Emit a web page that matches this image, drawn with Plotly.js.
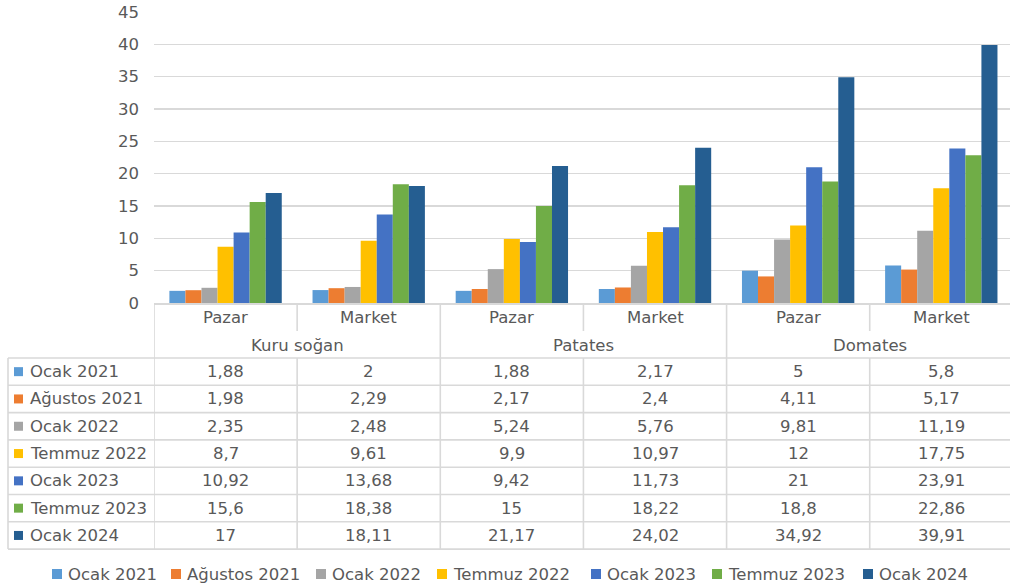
<!DOCTYPE html>
<html>
<head>
<meta charset="utf-8">
<script src="https://cdn.plot.ly/plotly-3.0.1.min.js"></script>
<style>html,body{margin:0;padding:0;background:#fff;}#chart{width:1010px;height:587px;}</style>
</head>
<body>
<div id="chart"></div>
<script>
// ---- data ----
const products = ["Kuru soğan", "Patates", "Domates"];
const markets = ["Pazar", "Market"];
const seriesNames = ["Ocak 2021", "Ağustos 2021", "Ocak 2022", "Temmuz 2022", "Ocak 2023", "Temmuz 2023", "Ocak 2024"];
const ocak2021    = [1.88, 2,     1.88,  2.17,  5,     5.8];
const agustos2021 = [1.98, 2.29,  2.17,  2.4,   4.11,  5.17];
const ocak2022    = [2.35, 2.48,  5.24,  5.76,  9.81,  11.19];
const temmuz2022  = [8.7,  9.61,  9.9,   10.97, 12,    17.75];
const ocak2023    = [10.92,13.68, 9.42,  11.73, 21,    23.91];
const temmuz2023  = [15.6, 18.38, 15,    18.22, 18.8,  22.86];
const ocak2024    = [17,   18.11, 21.17, 24.02, 34.92, 39.91];
const yTicks = [0, 5, 10, 15, 20, 25, 30, 35, 40, 45];

const seriesValues = [ocak2021, agustos2021, ocak2022, temmuz2022, ocak2023, temmuz2023, ocak2024];
const colors = ["#5B9BD5", "#ED7D31", "#A5A5A5", "#FFC000", "#4472C4", "#70AD47", "#255E91"];

// ---- layout geometry (pixels) ----
const W = 1010, H = 587;
const L = 154, R = 1010, T = 12, B = 303;
const xMin = -0.5, xMax = 5.48;
const px = x => (x - L) / (R - L);
const py = y => (B - y) / (B - T);
const font = "DejaVu Sans, sans-serif";
const txtColor = "#595959";
const lineColor = "#d9d9d9";
const fs = 16.5;

const nCat = products.length * markets.length;
const xs = [];
for (let i = 0; i < nCat; i++) xs.push(i);

const traces = seriesNames.map((name, s) => ({
  type: "bar",
  name: name,
  x: xs,
  y: seriesValues[s],
  marker: {color: colors[s]},
  hoverinfo: "skip"
}));

const shapes = [];
const annotations = [];
const rowTop = 358, rowH = 27.3;
const nRows = seriesNames.length;
const tableBottom = rowTop + rowH * nRows;

function hline(y, x0, x1) {
  shapes.push({type: "line", xref: "paper", yref: "paper", x0: px(x0), x1: px(x1), y0: py(y), y1: py(y),
    line: {color: lineColor, width: 1.6}, layer: "above"});
}
// vertical line at a category boundary (data x), spanning pixel rows
function vlineX(xv, y0, y1) {
  shapes.push({type: "line", xref: "x", yref: "paper", x0: xv, x1: xv, y0: py(y0), y1: py(y1),
    line: {color: lineColor, width: 1.6}, layer: "above"});
}
function vline(x, y0, y1) {
  shapes.push({type: "line", xref: "paper", yref: "paper", x0: px(x), x1: px(x), y0: py(y0), y1: py(y1),
    line: {color: lineColor, width: 1.6}, layer: "above"});
}

// table horizontal lines
for (let k = 0; k <= nRows; k++) hline(rowTop + rowH * k, 8, R);
// left column border
vline(8, rowTop, tableBottom);
// column boundaries
for (let i = 0; i < nCat; i++) {
  const xv = i - 0.5;
  if (i % markets.length === 0) {
    vlineX(xv, B, tableBottom);
  } else {
    vlineX(xv, B, 331);
    vlineX(xv, rowTop, tableBottom);
  }
}

// market labels
for (let i = 0; i < nCat; i++) {
  annotations.push({xref: "x", yref: "paper", x: i, y: py(317), text: markets[i % markets.length],
    showarrow: false, xanchor: "center", yanchor: "middle", font: {family: font, size: fs, color: txtColor}});
}
// product labels
products.forEach((p, g) => {
  annotations.push({xref: "x", yref: "paper", x: g * markets.length + (markets.length - 1) / 2, y: py(345), text: p,
    showarrow: false, xanchor: "center", yanchor: "middle", font: {family: font, size: fs, color: txtColor}});
});

const fmt = v => String(v).replace(".", ",");

// table rows
seriesNames.forEach((name, s) => {
  const yc = rowTop + rowH * (s + 0.5);
  shapes.push({type: "rect", xref: "paper", yref: "paper", x0: px(14), x1: px(23), y0: py(yc - 4.5), y1: py(yc + 4.5),
    fillcolor: colors[s], line: {width: 0}, layer: "above"});
  annotations.push({xref: "paper", yref: "paper", x: px(28), y: py(yc), text: name, showarrow: false,
    xanchor: "left", yanchor: "middle", font: {family: font, size: fs, color: txtColor}});
  seriesValues[s].forEach((v, i) => {
    annotations.push({xref: "x", yref: "paper", x: i, y: py(yc), text: fmt(v), showarrow: false,
      xanchor: "center", yanchor: "middle", font: {family: font, size: fs, color: txtColor}});
  });
});

// bottom legend
const legendSquareX = [52, 171, 316, 437, 591, 712, 863];
const legendY = 574;
seriesNames.forEach((name, s) => {
  const x0 = legendSquareX[s];
  shapes.push({type: "rect", xref: "paper", yref: "paper", x0: px(x0), x1: px(x0 + 10), y0: py(legendY - 5), y1: py(legendY + 5),
    fillcolor: colors[s], line: {width: 0}, layer: "above"});
  annotations.push({xref: "paper", yref: "paper", x: px(x0 + 14), y: py(legendY), text: name, showarrow: false,
    xanchor: "left", yanchor: "middle", font: {family: font, size: fs, color: txtColor}});
});

const layout = {
  width: W, height: H,
  margin: {l: L, r: W - R, t: T, b: H - B, pad: 0},
  paper_bgcolor: "#fff", plot_bgcolor: "#fff",
  barmode: "group", bargap: 0.215, bargroupgap: 0,
  showlegend: false,
  font: {family: font, size: fs, color: txtColor},
  xaxis: {range: [xMin, xMax], showticklabels: false, ticks: "", showgrid: false, zeroline: false,
    showline: true, linecolor: lineColor, linewidth: 1.6, fixedrange: true},
  yaxis: {range: [0, 45], tickvals: yTicks, ticktext: yTicks.map(String), ticks: "", showgrid: true,
    gridcolor: lineColor, gridwidth: 1.2, zeroline: false, showline: false, ticklabelstandoff: 14,
    tickfont: {family: font, size: fs, color: txtColor}, fixedrange: true},
  shapes: shapes,
  annotations: annotations
};

Plotly.newPlot("chart", traces, layout, {displayModeBar: false, staticPlot: true});
</script>
</body>
</html>
